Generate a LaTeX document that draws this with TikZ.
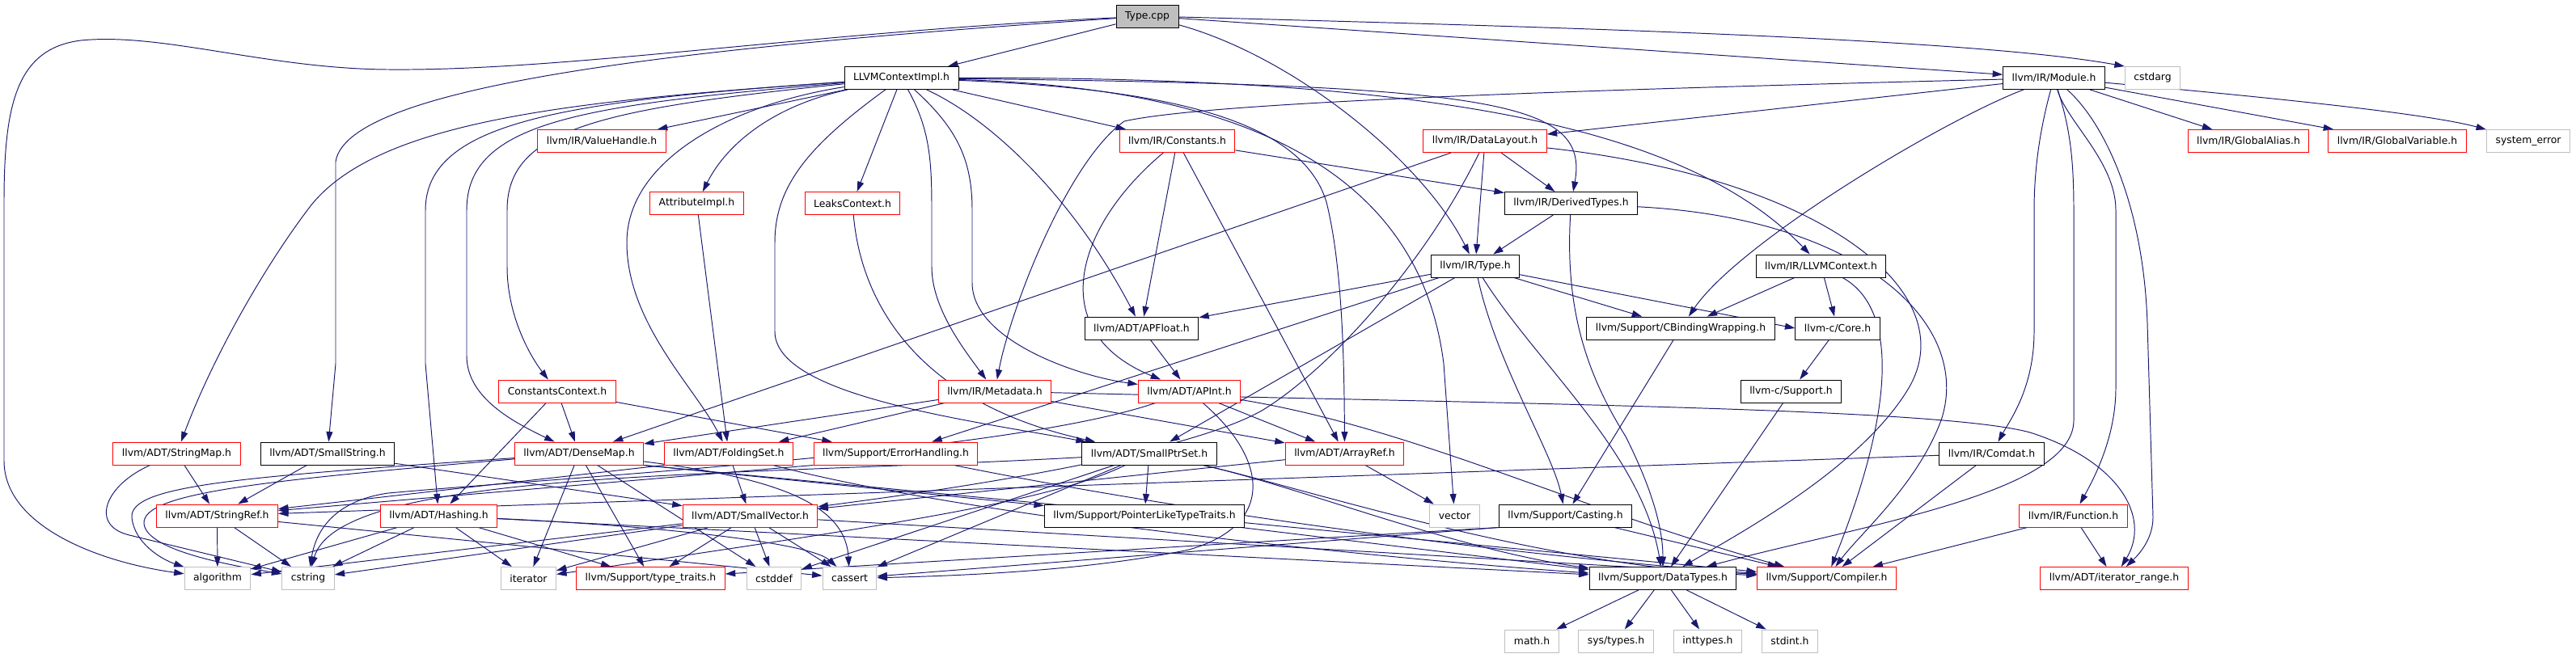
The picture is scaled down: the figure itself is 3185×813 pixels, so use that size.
\documentclass[tikz,border=0pt]{standalone}
\usepackage{fontspec}
\setmainfont{DejaVu Sans}
\usetikzlibrary{arrows.meta,backgrounds}
\definecolor{dotblue}{HTML}{191970}
\definecolor{dotgray}{HTML}{BFBFBF}
\begin{document}
\begin{tikzpicture}[>={Stealth[inset=0pt,length=2.5mm,width=1.6mm]},x=0.2mm,y=-0.2mm,
    font=\fontsize{7.05pt}{8.5pt}\selectfont,
    file/.style={draw,fill=white,line width=0.55pt,minimum height=5.6mm,inner xsep=2.2mm,inner ysep=0pt},
    hdr/.style={file,draw=black},
    hdrred/.style={file,draw=red},
    sys/.style={file,draw=dotgray},
    src/.style={file,draw=black,fill=dotgray},
    inc/.style={->,draw=dotblue,line width=0.55pt}]
            \useasboundingbox (0,0) rectangle (3185,813);
            \node[src] (tcpp) at (1418.5,20) {Type.cpp};
            \node[hdr] (ctximpl) at (1114.5,96.5) {LLVMContextImpl.h};
            \node[hdr] (module) at (2539.5,96.5) {llvm/IR/Module.h};
            \node[sys] (cstdarg) at (2661.5,96.5) {cstdarg};
            \node[hdrred] (valuehandle) at (744,174.5) {llvm/IR/ValueHandle.h};
            \node[hdrred] (constants) at (1455.5,174.5) {llvm/IR/Constants.h};
            \node[hdrred] (datalayout) at (1836,174.5) {llvm/IR/DataLayout.h};
            \node[hdrred] (globalalias) at (2780,174.5) {llvm/IR/GlobalAlias.h};
            \node[hdrred] (globalvar) at (2964,174.5) {llvm/IR/GlobalVariable.h};
            \node[sys] (syserror) at (3126,174.5) {system\_error};
            \node[hdrred] (attrimpl) at (861.5,251.5) {AttributeImpl.h};
            \node[hdrred] (leaksctx) at (1054,251.5) {LeaksContext.h};
            \node[hdr] (derivedtypes) at (1942.5,251.5) {llvm/IR/DerivedTypes.h};
            \node[hdr] (typeh) at (1824,329) {llvm/IR/Type.h};
            \node[hdr] (llvmctx) at (2251.5,329) {llvm/IR/LLVMContext.h};
            \node[hdr] (apfloat) at (1411.5,406) {llvm/ADT/APFloat.h};
            \node[hdr] (cbinding) at (2078,406) {llvm/Support/CBindingWrapping.h};
            \node[hdr] (core) at (2272,406) {llvm-c/Core.h};
            \node[hdrred] (constctx) at (689,484) {ConstantsContext.h};
            \node[hdrred] (metadata) at (1230,484) {llvm/IR/Metadata.h};
            \node[hdrred] (apint) at (1470.5,484) {llvm/ADT/APInt.h};
            \node[hdr] (csupport) at (2214.5,484) {llvm-c/Support.h};
            \node[hdrred] (stringmap) at (218.5,561) {llvm/ADT/StringMap.h};
            \node[hdr] (smallstring) at (405,561) {llvm/ADT/SmallString.h};
            \node[hdrred] (densemap) at (716,561) {llvm/ADT/DenseMap.h};
            \node[hdrred] (foldingset) at (901,561) {llvm/ADT/FoldingSet.h};
            \node[hdrred] (errhandling) at (1107.5,561) {llvm/Support/ErrorHandling.h};
            \node[hdr] (smallptrset) at (1421,561) {llvm/ADT/SmallPtrSet.h};
            \node[hdrred] (arrayref) at (1662.5,561) {llvm/ADT/ArrayRef.h};
            \node[hdr] (comdat) at (2462.5,561) {llvm/IR/Comdat.h};
            \node[hdrred] (stringref) at (268.5,638) {llvm/ADT/StringRef.h};
            \node[hdrred] (hashing) at (542.5,638) {llvm/ADT/Hashing.h};
            \node[hdrred] (smallvector) at (927.5,638) {llvm/ADT/SmallVector.h};
            \node[hdr] (ptrtraits) at (1415,638) {llvm/Support/PointerLikeTypeTraits.h};
            \node[sys] (vector) at (1798.5,638) {vector};
            \node[hdr] (casting) at (1935.5,638) {llvm/Support/Casting.h};
            \node[hdrred] (function) at (2563.5,638) {llvm/IR/Function.h};
            \node[sys] (algorithm) at (269,715.5) {algorithm};
            \node[sys] (cstring) at (381,715.5) {cstring};
            \node[sys] (iterator) at (653.5,715.5) {iterator};
            \node[hdrred] (typetraits) at (804.5,715.5) {llvm/Support/type\_traits.h};
            \node[sys] (cstddef) at (957,715.5) {cstddef};
            \node[sys] (cassert) at (1050.5,715.5) {cassert};
            \node[hdr] (datatypes) at (2056,715.5) {llvm/Support/DataTypes.h};
            \node[hdrred] (compiler) at (2258.5,715.5) {llvm/Support/Compiler.h};
            \node[hdrred] (iterrange) at (2614,715.5) {llvm/ADT/iterator\_range.h};
            \node[sys] (mathh) at (1894,793) {math.h};
            \node[sys] (systypes) at (1998,793) {sys/types.h};
            \node[sys] (inttypes) at (2111.5,793) {inttypes.h};
            \node[sys] (stdint) at (2213,793) {stdint.h};
            \begin{pgfonlayer}{background}
            \fill[white] (0,0) rectangle (3185,813);
            % Type.cpp
            \draw[inc] (tcpp) -- (ctximpl);
            \draw[inc] (tcpp) .. controls (1000,40) and (700,88) .. (480,86) .. controls (330,85) and (200,40) .. (100,50) .. controls (20,60) and (5,130) .. (5,250) -- (5,570) .. controls (5,650) and (120,695) .. (algorithm);
            \draw[inc] (tcpp) .. controls (900,55) and (430,100) .. (415,200) -- (415,450) -- (smallstring);
            \draw[inc] (tcpp) -- (module);
            \draw[inc] (tcpp) .. controls (2000,35) and (2450,50) .. (cstdarg.north west);
            \draw[inc] (tcpp) .. controls (1600,70) and (1760,200) .. (typeh);
            % LLVMContextImpl.h
            \draw[inc] (ctximpl) -- (valuehandle);
            \draw[inc] (ctximpl) .. controls (960,130) and (900,175) .. (attrimpl);
            \draw[inc] (ctximpl) -- (leaksctx);
            \draw[inc] (ctximpl) -- (constants);
            \draw[inc] (ctximpl) .. controls (1230,150) and (1330,250) .. (apfloat);
            \draw[inc] (ctximpl) .. controls (1150,160) and (1152,200) .. (1152,260) -- (1152,330) .. controls (1152,380) and (1190,430) .. (metadata);
            \draw[inc] (ctximpl) .. controls (1185,160) and (1202,200) .. (1202,260) -- (1202,350) .. controls (1202,420) and (1330,465) .. (apint);
            \draw[inc] (ctximpl) .. controls (1000,180) and (958,230) .. (958,300) -- (958,410) .. controls (958,490) and (1200,520) .. (smallptrset);
            \draw[inc] (ctximpl) .. controls (700,125) and (460,150) .. (380,260) .. controls (320,340) and (260,450) .. (stringmap);
            \draw[inc] (ctximpl) .. controls (700,125) and (526,150) .. (526,260) -- (526,450) -- (hashing);
            \draw[inc] (ctximpl) .. controls (720,130) and (577,150) .. (577,260) -- (577,440) .. controls (577,490) and (630,520) .. (densemap);
            \draw[inc] (ctximpl) .. controls (740,135) and (627,160) .. (627,260) -- (627,330) .. controls (627,390) and (655,440) .. (constctx);
            \draw[inc] (ctximpl) .. controls (900,130) and (775,200) .. (775,300) .. controls (775,400) and (860,480) .. (foldingset);
            \draw[inc] (ctximpl) .. controls (1450,110) and (1610,150) .. (1640,250) .. controls (1660,330) and (1662,450) .. (arrayref);
            \draw[inc] (ctximpl) .. controls (1600,110) and (1760,250) .. (1785,450) -- (vector);
            \draw[inc] (ctximpl) .. controls (1850,105) and (1965,125) .. (derivedtypes);
            \draw[inc] (ctximpl) .. controls (1750,95) and (2080,150) .. (llvmctx);
            % llvm/IR/Module.h
            \draw[inc] (module) -- (globalalias);
            \draw[inc] (module) -- (globalvar);
            \draw[inc] (module) .. controls (2800,120) and (3000,140) .. (syserror);
            \draw[inc] (module) -- (datalayout);
            \draw[inc] (module) .. controls (2000,110) and (1500,125) .. (1390,150) .. controls (1320,200) and (1250,380) .. (metadata);
            \draw[inc] (module) .. controls (2400,150) and (2150,300) .. (cbinding);
            \draw[inc] (module) .. controls (2525,150) and (2515,200) .. (2515,260) -- (2515,410) .. controls (2515,480) and (2485,520) .. (comdat);
            \draw[inc] (module) .. controls (2555,150) and (2616,200) .. (2616,260) -- (2616,480) .. controls (2616,540) and (2590,590) .. (function);
            \draw[inc] (module) .. controls (2600,150) and (2650,250) .. (2655,400) -- (2662,640) .. controls (2662,670) and (2640,690) .. (iterrange);
            \draw[inc] (module) .. controls (2560,160) and (2564,200) .. (2564,260) -- (2564,520) .. controls (2564,610) and (2300,650) .. (datatypes);
            % llvm/IR/Constants.h, llvm/IR/DataLayout.h
            \draw[inc] (constants) -- (derivedtypes);
            \draw[inc] (constants) -- (apfloat);
            \draw[inc] (constants) .. controls (1330,280) and (1290,410) .. (apint);
            \draw[inc] (constants) -- (arrayref);
            \draw[inc] (datalayout) -- (derivedtypes);
            \draw[inc] (datalayout) -- (typeh);
            \draw[inc] (datalayout) -- (densemap);
            \draw[inc] (datalayout) .. controls (1760,330) and (1640,460) .. (1560,508) .. controls (1450,570) and (1100,615) .. (smallvector);
            \draw[inc] (datalayout) .. controls (2250,220) and (2430,360) .. (2360,480) .. controls (2300,580) and (2150,660) .. (datatypes);
            \draw[inc] (derivedtypes) -- (typeh);
            \draw[inc] (derivedtypes) .. controls (1935,380) and (1960,460) .. (2010,540) .. controls (2040,600) and (2056,650) .. (datatypes);
            \draw[inc] (derivedtypes) .. controls (2300,270) and (2440,400) .. (2400,520) .. controls (2370,600) and (2300,660) .. (compiler);
            % llvm/IR/Type.h
            \draw[inc] (typeh) -- (apfloat);
            \draw[inc] (typeh) -- (errhandling);
            \draw[inc] (typeh) -- (smallptrset);
            \draw[inc] (typeh) .. controls (1850,450) and (1920,560) .. (casting);
            \draw[inc] (typeh) .. controls (1900,450) and (2030,560) .. (datatypes);
            \draw[inc] (typeh) -- (cbinding);
            \draw[inc] (typeh) -- (core.west);
            \draw[inc] (llvmctx) -- (cbinding);
            \draw[inc] (llvmctx) -- (core);
            \draw[inc] (llvmctx) .. controls (2345,380) and (2345,500) .. (compiler);
            \draw[inc] (core) -- (csupport);
            \draw[inc] (csupport) -- (datatypes);
            \draw[inc] (cbinding) -- (casting);
            \draw[inc] (casting) -- (compiler);
            \draw[inc] (casting.south west) -- (cassert);
            \draw[inc] (casting.south west) -- (typetraits);
            % APFloat, APInt, Metadata
            \draw[inc] (apfloat) -- (apint);
            \draw[inc] (apint) -- (arrayref);
            \draw[inc] (apint) .. controls (1570,570) and (1575,650) .. (1470,680) .. controls (1350,705) and (1200,712) .. (cassert);
            \draw[inc] (apint) .. controls (1250,560) and (700,590) .. (480,610) .. controls (410,620) and (390,660) .. (cstring);
            \draw[inc] (apint) .. controls (1750,530) and (1950,630) .. (compiler);
            \draw[inc] (metadata) -- (foldingset);
            \draw[inc] (metadata) -- (densemap);
            \draw[inc] (metadata) -- (arrayref);
            \draw[inc] (metadata) .. controls (1900,500) and (2400,505) .. (2510,535) .. controls (2620,570) and (2660,640) .. (iterrange);
            % ConstantsContext.h, AttributeImpl.h, LeaksContext.h
            \draw[inc] (constctx) -- (densemap);
            \draw[inc] (constctx) -- (hashing);
            \draw[inc] (constctx) -- (errhandling);
            \draw[inc] (attrimpl) -- (foldingset);
            \draw[inc] (leaksctx) .. controls (1065,380) and (1140,500) .. (smallptrset);
            % ADT row
            \draw[inc] (stringmap) -- (stringref);
            \draw[inc] (stringmap) .. controls (130,600) and (110,650) .. (160,662) -- (cstring);
            \draw[inc] (smallstring) -- (stringref);
            \draw[inc] (smallstring) -- (smallvector);
            \draw[inc] (densemap) .. controls (300,590) and (160,600) .. (163,640) .. controls (166,672) and (200,692) .. (algorithm);
            \draw[inc] (densemap) .. controls (320,595) and (175,610) .. (178,648) .. controls (182,682) and (290,700) .. (cstring);
            \draw[inc] (densemap) -- (iterator);
            \draw[inc] (densemap) -- (typetraits);
            \draw[inc] (densemap) -- (cstddef);
            \draw[inc] (densemap) .. controls (950,590) and (1045,620) .. (cassert);
            \draw[inc] (densemap.south east) -- (ptrtraits);
            \draw[inc] (densemap.south east) -- (compiler);
            \draw[inc] (foldingset) -- (smallvector);
            \draw[inc] (foldingset.south west) -- (stringref);
            \draw[inc] (foldingset) .. controls (1200,640) and (1700,690) .. (datatypes);
            \draw[inc] (errhandling.south west) -- (stringref);
            \draw[inc] (errhandling) .. controls (1500,640) and (1900,690) .. (compiler);
            \draw[inc] (smallptrset) -- (ptrtraits);
            \draw[inc] (smallptrset) .. controls (1600,600) and (1900,700) .. (compiler);
            \draw[inc] (smallptrset) .. controls (1600,600) and (1800,680) .. (datatypes);
            \draw[inc] (smallptrset) -- (cassert);
            \draw[inc] (smallptrset) -- (cstddef);
            \draw[inc] (smallptrset) .. controls (900,590) and (420,580) .. (cstring);
            \draw[inc] (smallptrset) .. controls (1300,620) and (1100,650) .. (iterator);
            \draw[inc] (arrayref) -- (vector);
            \draw[inc] (arrayref) -- (smallvector);
            \draw[inc] (ptrtraits) -- (datatypes);
            \draw[inc] (comdat) -- (stringref);
            \draw[inc] (comdat) -- (compiler);
            \draw[inc] (function) -- (compiler);
            \draw[inc] (function) -- (iterrange);
            % StringRef.h, Hashing.h, SmallVector.h
            \draw[inc] (stringref) -- (algorithm);
            \draw[inc] (stringref) -- (cstring);
            \draw[inc] (stringref) -- (cassert);
            \draw[inc] (hashing) -- (algorithm);
            \draw[inc] (hashing) -- (cstring);
            \draw[inc] (hashing) -- (iterator);
            \draw[inc] (hashing) -- (typetraits);
            \draw[inc] (hashing) .. controls (800,650) and (1000,670) .. (cassert);
            \draw[inc] (hashing) -- (datatypes);
            \draw[inc] (smallvector) -- (typetraits);
            \draw[inc] (smallvector) -- (cstddef);
            \draw[inc] (smallvector) -- (cassert);
            \draw[inc] (smallvector) -- (algorithm);
            \draw[inc] (smallvector) -- (cstring);
            \draw[inc] (smallvector) -- (iterator);
            \draw[inc] (smallvector) -- (compiler);
            % DataTypes.h
            \draw[inc] (datatypes) -- (mathh);
            \draw[inc] (datatypes) -- (systypes);
            \draw[inc] (datatypes) -- (inttypes);
            \draw[inc] (datatypes) -- (stdint);
            \end{pgfonlayer}
        \end{tikzpicture}
\end{document}
